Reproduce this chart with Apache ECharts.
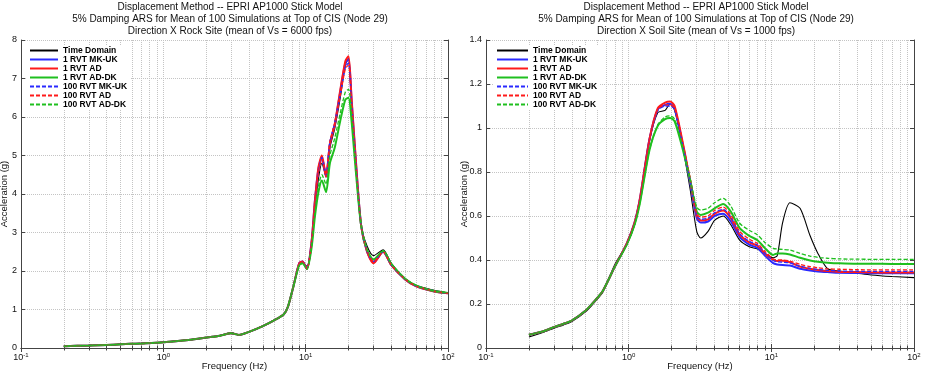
<!DOCTYPE html>
<html>
<head>
<meta charset="utf-8">
<script src="https://cdn.jsdelivr.net/npm/echarts@6/dist/echarts.min.js"></script>
<style>html,body{margin:0;background:#fff}#chart{width:928px;height:372px}</style>
</head>
<body>
<div id="chart"></div>
<script>
// series names (same for both panels)
const names = ["Time Domain", "1 RVT MK-UK", "1 RVT AD", "1 RVT AD-DK", "100 RVT MK-UK", "100 RVT AD", "100 RVT AD-DK"];

// left panel: rock site
const freqL = [0.2, 0.3, 0.4, 0.5, 0.7, 1.0, 1.5, 2.0, 2.5, 3.0, 3.4, 4.0, 5.0, 6.0, 7.0, 7.5, 8.2, 9.0, 9.5, 10.2,
  11.0, 11.6, 12.3, 13.0, 13.9, 14.8, 16.0, 17.5, 19.0, 20.0, 21.0, 22.5, 24.5, 27, 30, 35, 40, 50, 60, 80, 100];
const rockTD    = [0.04, 0.06, 0.08, 0.09, 0.12, 0.15, 0.21, 0.27, 0.32, 0.40, 0.34, 0.42, 0.57, 0.72, 0.87, 1.07, 1.6, 2.15, 2.22, 2.12,
  2.7, 3.6, 4.4, 4.8, 4.45, 5.2, 5.7, 6.5, 7.35, 7.52, 6.4, 4.8, 3.2, 2.65, 2.4, 2.55, 2.2, 1.8, 1.62, 1.5, 1.43];
const rockMK1   = [0.045, 0.065, 0.08, 0.095, 0.12, 0.15, 0.21, 0.27, 0.32, 0.38, 0.34, 0.42, 0.57, 0.72, 0.87, 1.07, 1.6, 2.2, 2.25, 2.06,
  2.75, 3.8, 4.65, 4.95, 4.45, 5.3, 5.8, 6.65, 7.4, 7.5, 6.45, 4.85, 3.2, 2.5, 2.22, 2.5, 2.15, 1.78, 1.6, 1.47, 1.42];
const rockAD1   = [0.045, 0.065, 0.08, 0.095, 0.12, 0.15, 0.21, 0.27, 0.32, 0.38, 0.34, 0.42, 0.57, 0.72, 0.87, 1.07, 1.6, 2.2, 2.25, 2.05,
  2.75, 3.8, 4.7, 5.0, 4.45, 5.3, 5.8, 6.7, 7.45, 7.58, 6.5, 4.9, 3.2, 2.5, 2.2, 2.5, 2.15, 1.78, 1.6, 1.47, 1.42];
const rockADDK1 = [0.045, 0.065, 0.08, 0.095, 0.12, 0.15, 0.21, 0.27, 0.32, 0.38, 0.34, 0.42, 0.57, 0.72, 0.87, 1.07, 1.6, 2.15, 2.2, 2.05,
  2.6, 3.4, 4.05, 4.35, 4.05, 4.8, 5.2, 5.9, 6.45, 6.5, 5.9, 4.6, 3.2, 2.55, 2.3, 2.52, 2.18, 1.8, 1.62, 1.48, 1.43];
const rockMK100 = [0.045, 0.065, 0.08, 0.095, 0.12, 0.15, 0.21, 0.27, 0.32, 0.38, 0.34, 0.42, 0.57, 0.72, 0.87, 1.07, 1.6, 2.2, 2.25, 2.06,
  2.75, 3.75, 4.6, 4.95, 4.5, 5.35, 5.85, 6.6, 7.3, 7.4, 6.4, 4.85, 3.2, 2.52, 2.25, 2.5, 2.16, 1.79, 1.61, 1.48, 1.42];
const rockAD100 = [0.045, 0.065, 0.08, 0.095, 0.12, 0.15, 0.21, 0.27, 0.32, 0.38, 0.34, 0.42, 0.57, 0.72, 0.87, 1.07, 1.6, 2.2, 2.25, 2.06,
  2.75, 3.75, 4.55, 4.9, 4.5, 5.35, 5.85, 6.55, 7.25, 7.35, 6.35, 4.8, 3.2, 2.52, 2.25, 2.5, 2.16, 1.79, 1.61, 1.48, 1.42];
const rockADDK100 = [0.045, 0.065, 0.08, 0.095, 0.12, 0.15, 0.21, 0.27, 0.32, 0.38, 0.34, 0.42, 0.57, 0.72, 0.87, 1.07, 1.6, 2.15, 2.2, 2.05,
  2.65, 3.5, 4.2, 4.5, 4.25, 5.0, 5.45, 6.1, 6.65, 6.72, 6.1, 4.7, 3.2, 2.55, 2.3, 2.52, 2.18, 1.8, 1.62, 1.48, 1.43];

// right panel: soil site
const freqR = [0.2, 0.25, 0.3, 0.35, 0.4, 0.5, 0.58, 0.66, 0.8, 0.97, 1.1, 1.2, 1.4, 1.6, 1.8, 1.95, 2.1, 2.4, 2.7, 3.0,
  3.2, 3.6, 4.0, 4.6, 5.2, 6.0, 7.0, 8.0, 9.0, 10.3, 11, 12, 13.5, 15.9, 18.7, 21.2, 24.8, 30, 40, 50, 70, 100];
const soilTD    = [0.05, 0.07, 0.09, 0.105, 0.12, 0.165, 0.21, 0.255, 0.38, 0.47, 0.56, 0.67, 0.94, 1.07, 1.08, 1.11, 1.08, 0.91, 0.72, 0.53,
  0.50, 0.53, 0.58, 0.60, 0.56, 0.49, 0.46, 0.45, 0.43, 0.41, 0.42, 0.57, 0.66, 0.635, 0.51, 0.43, 0.36, 0.35, 0.34, 0.332, 0.325, 0.32];
const soilMK1   = [0.06, 0.075, 0.095, 0.11, 0.125, 0.17, 0.215, 0.26, 0.37, 0.475, 0.57, 0.68, 0.95, 1.085, 1.105, 1.11, 1.09, 0.92, 0.75, 0.59,
  0.57, 0.575, 0.6, 0.61, 0.575, 0.505, 0.47, 0.455, 0.42, 0.386, 0.38, 0.377, 0.375, 0.36, 0.352, 0.348, 0.345, 0.342, 0.341, 0.34, 0.34, 0.34];
const soilAD1   = [0.06, 0.075, 0.095, 0.11, 0.125, 0.17, 0.215, 0.26, 0.37, 0.475, 0.57, 0.68, 0.95, 1.09, 1.115, 1.12, 1.1, 0.93, 0.76, 0.6,
  0.58, 0.585, 0.61, 0.625, 0.59, 0.515, 0.48, 0.465, 0.43, 0.40, 0.395, 0.397, 0.39, 0.37, 0.36, 0.355, 0.35, 0.346, 0.345, 0.344, 0.343, 0.343];
const soilADDK1 = [0.06, 0.075, 0.095, 0.11, 0.125, 0.17, 0.215, 0.26, 0.37, 0.47, 0.56, 0.66, 0.9, 1.01, 1.04, 1.045, 1.03, 0.9, 0.76, 0.62,
  0.605, 0.615, 0.635, 0.655, 0.62, 0.545, 0.51, 0.49, 0.455, 0.423, 0.43, 0.43, 0.425, 0.41, 0.398, 0.392, 0.388, 0.385, 0.383, 0.383, 0.382, 0.382];
const soilMK100 = [0.06, 0.075, 0.095, 0.11, 0.125, 0.17, 0.215, 0.26, 0.37, 0.475, 0.57, 0.68, 0.95, 1.08, 1.1, 1.1, 1.085, 0.92, 0.76, 0.6,
  0.585, 0.59, 0.615, 0.63, 0.595, 0.52, 0.485, 0.468, 0.432, 0.398, 0.392, 0.39, 0.387, 0.372, 0.362, 0.357, 0.353, 0.35, 0.349, 0.348, 0.348, 0.348];
const soilAD100 = [0.06, 0.075, 0.095, 0.11, 0.125, 0.17, 0.215, 0.26, 0.37, 0.475, 0.57, 0.68, 0.95, 1.085, 1.105, 1.105, 1.09, 0.93, 0.77, 0.61,
  0.595, 0.6, 0.625, 0.64, 0.605, 0.53, 0.495, 0.475, 0.44, 0.405, 0.40, 0.40, 0.395, 0.38, 0.37, 0.365, 0.36, 0.358, 0.356, 0.355, 0.355, 0.355];
const soilADDK100 = [0.06, 0.075, 0.095, 0.11, 0.125, 0.17, 0.215, 0.26, 0.37, 0.47, 0.56, 0.66, 0.9, 1.015, 1.05, 1.055, 1.04, 0.91, 0.77, 0.64,
  0.627, 0.635, 0.66, 0.68, 0.645, 0.567, 0.535, 0.514, 0.48, 0.453, 0.45, 0.448, 0.445, 0.43, 0.418, 0.412, 0.408, 0.405, 0.404, 0.403, 0.403, 0.403];

const rockVals = [rockTD, rockMK1, rockAD1, rockADDK1, rockMK100, rockAD100, rockADDK100];
const soilVals = [soilTD, soilMK1, soilAD1, soilADDK1, soilMK100, soilAD100, soilADDK100];

const colors = ["#000000", "#2a2aff", "#ff1a1a", "#1fbf1f", "#2a2aff", "#ff1a1a", "#1fbf1f"];
const widths = [1.1, 2, 2, 2, 1.3, 1.3, 1.3];
const dashes = ["solid", "solid", "solid", "solid", [4, 2], [4, 2], [4, 2]];

const FONT = "Liberation Sans, Arial, sans-serif";
const chart = echarts.init(document.getElementById("chart"));

const gridLine = { lineStyle: { color: "#c4c4c4", type: "dotted", width: 1 } };

function xAxes(gi) {
  const base = { type: "log", logBase: 10, min: 0.1, max: 100, gridIndex: gi };
  return [
    Object.assign({}, base, {
      position: "bottom",
      name: "Frequency (Hz)", nameLocation: "middle", nameGap: 13, nameMoveOverlap: false,
      nameTextStyle: { fontSize: 9.5, fontFamily: FONT, color: "#111" },
      axisLine: { lineStyle: { color: "#444" } },
      axisTick: { inside: true, length: 4, lineStyle: { color: "#444" } },
      minorTick: { show: true, splitNumber: 9, length: 2.5, lineStyle: { color: "#444" } },
      splitLine: { show: true, ...gridLine },
      minorSplitLine: { show: true, ...gridLine },
      axisLabel: {
        margin: 4, fontSize: 9, fontFamily: FONT, color: "#111",
        formatter: (v) => "10{s|" + Math.round(Math.log10(v)) + "}",
        rich: { s: { fontSize: 6, fontFamily: FONT, color: "#111", verticalAlign: "top", padding: [0, 0, 6, 0] } },
      },
    }),
    Object.assign({}, base, {
      position: "top",
      axisLine: { lineStyle: { color: "#444" } },
      axisTick: { inside: true, length: 4, lineStyle: { color: "#444" } },
      minorTick: { show: true, splitNumber: 9, length: 2.5, lineStyle: { color: "#444" } },
      axisLabel: { show: false }, splitLine: { show: false },
    }),
  ];
}

function yAxes(gi, max, interval, gap) {
  const base = { type: "value", min: 0, max, interval, gridIndex: gi };
  return [
    Object.assign({}, base, {
      position: "left",
      name: "Acceleration (g)", nameLocation: "middle", nameGap: gap, nameMoveOverlap: false,
      nameTextStyle: { fontSize: 9.5, fontFamily: FONT, color: "#111" },
      axisLine: { show: true, lineStyle: { color: "#444" } },
      axisTick: { show: true, inside: true, length: 4, lineStyle: { color: "#444" } },
      axisLabel: { margin: 4, fontSize: 9, fontFamily: FONT, color: "#111" },
      splitLine: { show: true, ...gridLine },
    }),
    Object.assign({}, base, {
      position: "right",
      axisLine: { show: true, lineStyle: { color: "#444" } },
      axisTick: { show: true, inside: true, length: 4, lineStyle: { color: "#444" } },
      axisLabel: { show: false }, splitLine: { show: false },
    }),
  ];
}

function buildSeries(freq, vals, gi) {
  return vals.map((arr, i) => ({
    name: names[i],
    type: "line",
    xAxisIndex: gi * 2,
    yAxisIndex: gi * 2,
    data: freq.map((f, j) => [f, arr[j]]),
    symbol: "none",
    smooth: 0.25,
    lineStyle: { color: colors[i], width: widths[i], type: dashes[i] },
    itemStyle: { color: colors[i] },
  }));
}

function legend(left, width) {
  return {
    data: names, orient: "vertical", left, top: 45,
    itemWidth: width, itemHeight: 8, itemGap: 0,
    padding: [1, 3], backgroundColor: "#fff",
    selectedMode: false,
    itemStyle: { opacity: 0 },
    textStyle: { fontSize: 8.5, lineHeight: 9, fontFamily: FONT, color: "#000", fontWeight: "bold" },
  };
}

const titleStyle = { fontSize: 10, fontWeight: "normal", lineHeight: 12, color: "#111", fontFamily: FONT };

chart.setOption({
  animation: false,
  backgroundColor: "#fff",
  title: [
    { text: "Displacement Method -- EPRI AP1000 Stick Model\n5% Damping ARS for Mean of 100 Simulations at Top of CIS (Node 29)\nDirection X Rock Site (mean of Vs = 6000 fps)",
      left: 230, top: 1, textAlign: "center", padding: 0, textStyle: titleStyle },
    { text: "Displacement Method -- EPRI AP1000 Stick Model\n5% Damping ARS for Mean of 100 Simulations at Top of CIS (Node 29)\nDirection X Soil Site (mean of Vs = 1000 fps)",
      left: 696, top: 1, textAlign: "center", padding: 0, textStyle: titleStyle },
  ],
  legend: [legend(26, 28), legend(493, 31)],
  grid: [
    { left: 21, right: 480, top: 40, bottom: 24, outerBoundsMode: "none", containLabel: false },
    { left: 486, right: 14, top: 40, bottom: 24, outerBoundsMode: "none", containLabel: false },
  ],
  xAxis: [...xAxes(0), ...xAxes(1)],
  yAxis: [...yAxes(0, 8, 1, 12), ...yAxes(1, 1.4, 0.2, 17)],
  series: [...buildSeries(freqL, rockVals, 0), ...buildSeries(freqR, soilVals, 1)],
});
</script>
</body>
</html>
